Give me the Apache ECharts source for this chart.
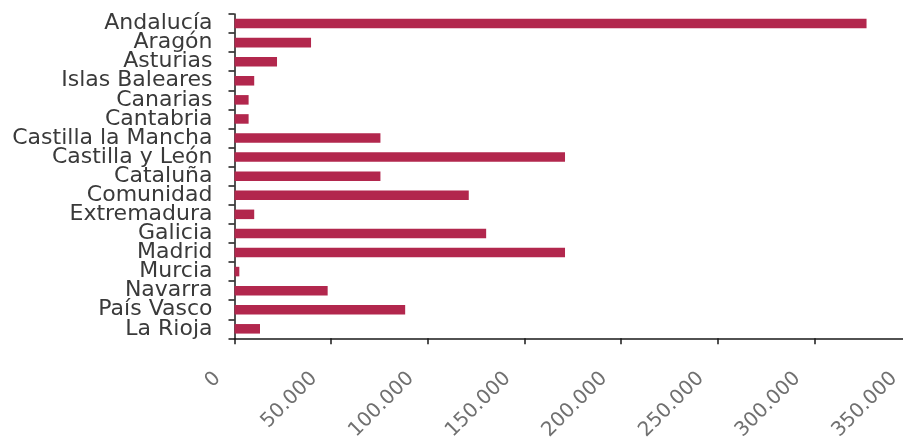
<!DOCTYPE html>
<html>
<head>
<meta charset="utf-8">
<script src="https://cdn.jsdelivr.net/npm/echarts@6/dist/echarts.min.js"></script>
<style>
html, body { margin: 0; padding: 0; background: #fff; overflow: hidden; }
/* el eje continúa un poco fuera de la ventana, hasta 350.000 */
#chart { width: 912px; height: 443px; }
</style>
</head>
<body>
<div id="chart"></div>
<script>
// comunidades autónomas, de arriba abajo
var regiones = ['Andalucía', 'Aragón', 'Asturias', 'Islas Baleares', 'Canarias', 'Cantabria',
  'Castilla la Mancha', 'Castilla y León', 'Cataluña', 'Comunidad', 'Extremadura', 'Galicia',
  'Madrid', 'Murcia', 'Navarra', 'País Vasco', 'La Rioja'];
var valores = [327000, 39600, 22000, 10200, 7300, 7300, 75500, 171000, 75500, 121200, 10200,
  130200, 171000, 2500, 48200, 88300, 13200];
var ejeMax = 350000;
var ejePaso = 50000;

function formatoMiles(v) {
  // 50000 -> 50.000
  return String(v).replace(/\B(?=(\d{3})+(?!\d))/g, '.');
}

var chart = echarts.init(document.getElementById('chart'));
chart.setOption({
  animation: false,
  grid: { left: 234.5, right: 1, top: 14, bottom: 104, containLabel: false },
  xAxis: {
    type: 'value',
    min: 0,
    max: ejeMax,
    interval: ejePaso,
    splitLine: { show: false },
    axisLine: { show: true, lineStyle: { color: '#1a1a1a', width: 1.5 } },
    axisTick: { show: true, length: 6, lineStyle: { color: '#1a1a1a', width: 1.5 } },
    axisLabel: {
      rotate: 45,
      margin: 20,
      padding: [0, 24, 0, 0],
      color: '#707070',
      fontFamily: 'DejaVu Sans',
      fontSize: 20,
      showMaxLabel: true,
      formatter: formatoMiles
    }
  },
  yAxis: {
    type: 'category',
    data: regiones,
    inverse: true,
    axisLine: { show: true, lineStyle: { color: '#1a1a1a', width: 1.5 } },
    axisTick: { show: true, length: 6, lineStyle: { color: '#1a1a1a', width: 1.5 } },
    axisLabel: {
      interval: 0,
      margin: 22,
      color: '#3a3a3a',
      fontFamily: 'DejaVu Sans',
      fontSize: 22
    }
  },
  series: [{
    type: 'bar',
    data: valores,
    barCategoryGap: '50%',
    itemStyle: { color: '#b2274d' }
  }]
});
</script>
</body>
</html>
